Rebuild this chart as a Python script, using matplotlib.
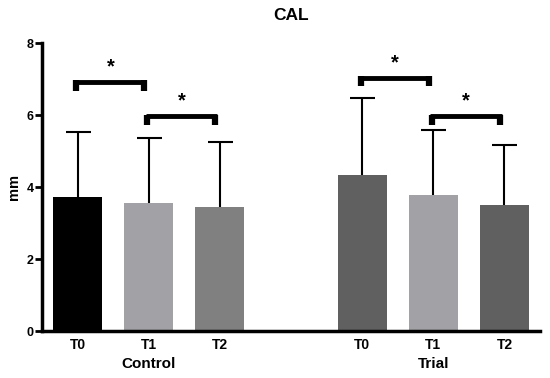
import matplotlib
matplotlib.use("Agg")
import matplotlib.pyplot as plt

plt.rcParams['font.family'] = ['Liberation Sans', 'DejaVu Sans']

groups = ["Control", "Trial"]
timepoints = ["T0", "T1", "T2"]
control_means = [3.73, 3.56, 3.45]
control_sd = [1.81, 1.79, 1.80]
trial_means = [4.33, 3.78, 3.50]
trial_sd = [2.13, 1.80, 1.66]
control_colors = ["#000000", "#a2a2a6", "#808080"]
trial_colors = ["#606060", "#a2a2a6", "#606060"]
y_ticks = [0, 2, 4, 6, 8]
# significance brackets: (group, i, j, height)
brackets = [("Control", 0, 1, 6.92), ("Control", 1, 2, 5.97),
            ("Trial", 0, 1, 7.04), ("Trial", 1, 2, 5.97)]

fig = plt.figure(figsize=(5.5, 3.78), dpi=100)
ax = fig.add_axes([42/550, 1-331/378, (540-42)/550, (331-43)/378])

group_offsets = {"Control": 0, "Trial": 4}
data = {"Control": (control_means, control_sd, control_colors),
        "Trial": (trial_means, trial_sd, trial_colors)}
width = 0.69
for g in groups:
    m, s, c = data[g]
    xs = [group_offsets[g] + i for i in range(3)]
    tops = [mi + si for mi, si in zip(m, s)]
    ax.bar(xs, m, width=width, color=c, zorder=2)
    ax.vlines(xs, m, tops, color='black', lw=1.5, zorder=3)
    ax.plot(xs, tops, linestyle='none', marker='_', markersize=18,
            mew=1.5, color='black', zorder=3)

for g, i, j, h in brackets:
    x1 = group_offsets[g] + i - 0.04
    x2 = group_offsets[g] + j - 0.04
    ax.plot([x1, x2], [h, h], color='black', lw=3.5, solid_capstyle='butt', zorder=4)
    for xx in (x1 + 0.022, x2 - 0.022):
        ax.plot([xx, xx], [h + 0.04, h - 0.24], color='black', lw=4.5,
                solid_capstyle='butt', zorder=4)
    ax.text((x1 + x2) / 2, h + 0.15, "*", ha='center', va='bottom',
            fontsize=14.5, fontweight='bold')

ax.set_xlim(-0.5, 6.5)
ax.set_ylim(0, 8)
ax.set_yticks(y_ticks)
ax.set_yticklabels([str(t) for t in y_ticks], fontsize=9, fontweight='bold')
xs_all = [0, 1, 2, 4, 5, 6]
ax.set_xticks(xs_all)
ax.set_xticklabels(timepoints * 2, fontsize=10, fontweight='bold')
ax.tick_params(axis='x', length=0, pad=5)
ax.tick_params(axis='y', length=5, width=2, pad=1)
for sp in ['top', 'right']:
    ax.spines[sp].set_visible(False)
for sp in ['left', 'bottom']:
    ax.spines[sp].set_linewidth(2.5)

for g in groups:
    ax.text(group_offsets[g] + 1, -0.93, g, ha='center', va='center',
            fontsize=11, fontweight='bold', transform=ax.transData)

ax.set_ylabel("mm", fontsize=10.5, fontweight='bold', labelpad=4)
fig.text(291/550, 1-16/378, "CAL", ha='center', va='center',
         fontsize=12.5, fontweight='bold')

fig.savefig("out.png", dpi=100)
